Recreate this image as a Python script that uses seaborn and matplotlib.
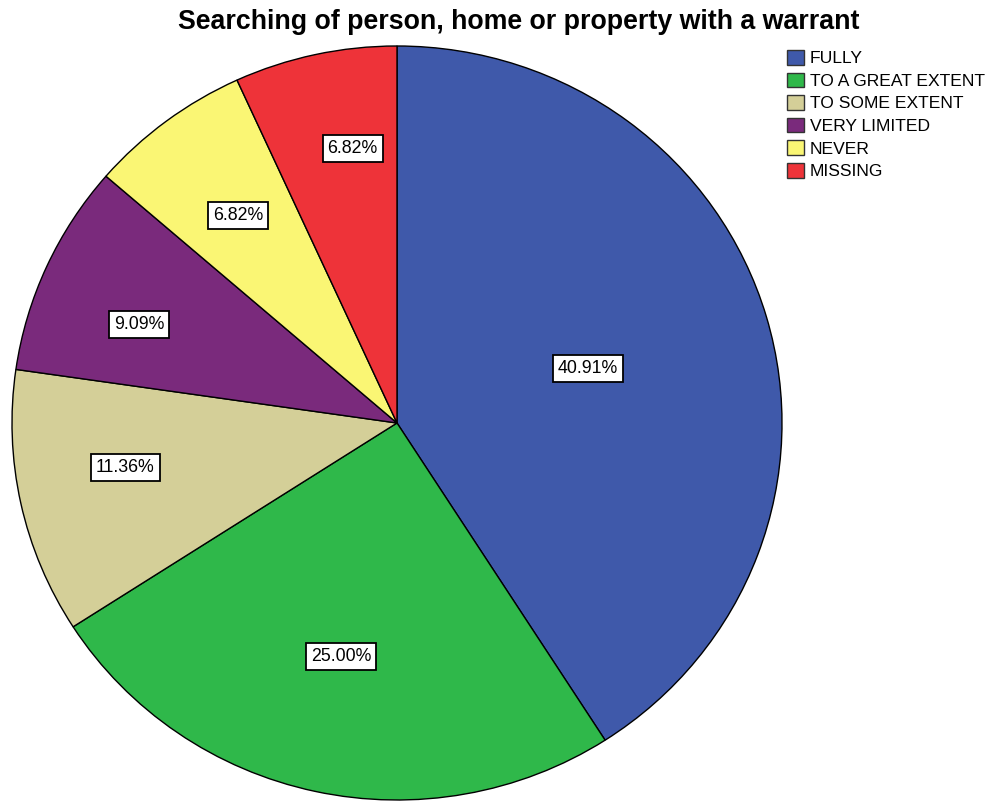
import numpy as np
import matplotlib
matplotlib.use("Agg")
import matplotlib.pyplot as plt
import seaborn as sns
from matplotlib.patches import Patch

sns.set_theme(style="white")
plt.rcParams['font.family'] = ['Liberation Sans', 'DejaVu Sans']
plt.rcParams['text.color'] = 'black'

title = "Searching of person, home or property with a warrant"
categories = ["FULLY", "TO A GREAT EXTENT", "TO SOME EXTENT", "VERY LIMITED", "NEVER", "MISSING"]
percents = [40.91, 25.00, 11.36, 9.09, 6.82, 6.82]
colors = ["#3F59AA", "#2FB84A", "#D4CF98", "#7A2A7C", "#FAF674", "#EE3339"]
# label placement (layout only): radial distance and angular nudge in degrees
label_radius = [0.516, 0.636, 0.716, 0.719, 0.689, 0.738]
label_nudge = [0.0, -0.9, -2.7, 3.2, 0.0, -3.3]

fig = plt.figure(figsize=(9.87, 8.01), dpi=100)
W, H = 987, 801
# pie box in pixels: x 12..782, y 46..800
ax = fig.add_axes([12 / W, 1 - 800 / H, 770 / W, 754 / H])

wedges, _ = ax.pie(percents, colors=colors, startangle=90, counterclock=False,
                   radius=1.0, wedgeprops=dict(edgecolor="black", linewidth=1.0))
ax.set_xlim(-1.0, 1.0)
ax.set_ylim(-1.0, 1.0)
ax.set_aspect('auto')
ax.axis('off')

cum = np.cumsum([0] + percents[:-1])
for p, c0, r, nd in zip(percents, cum, label_radius, label_nudge):
    ang = np.deg2rad(90 - (c0 + p / 2) * 3.6 + nd)
    ax.text(r * np.cos(ang), r * np.sin(ang), f"{p:.2f}%", ha="center", va="center",
            fontsize=12.8, color="black",
            bbox=dict(boxstyle="square,pad=0.28", facecolor="white", edgecolor="black", linewidth=1.3))

fig.text(519 / W, 1 - 22 / H, title, ha="center", va="center", fontsize=19.3, fontweight="bold",
         color="black")

handles = [Patch(facecolor=c, edgecolor="#333333", linewidth=1.0) for c in colors]
leg = fig.legend(handles, categories, loc="upper left", bbox_to_anchor=(787 / W, 1 - 50 / H),
                 frameon=False, fontsize=12.6, handlelength=0.95, handleheight=0.9,
                 handletextpad=0.35, labelspacing=0.36, borderaxespad=0, borderpad=0.0)
for t in leg.get_texts():
    t.set_color("black")

fig.savefig("out.png", dpi=100)
